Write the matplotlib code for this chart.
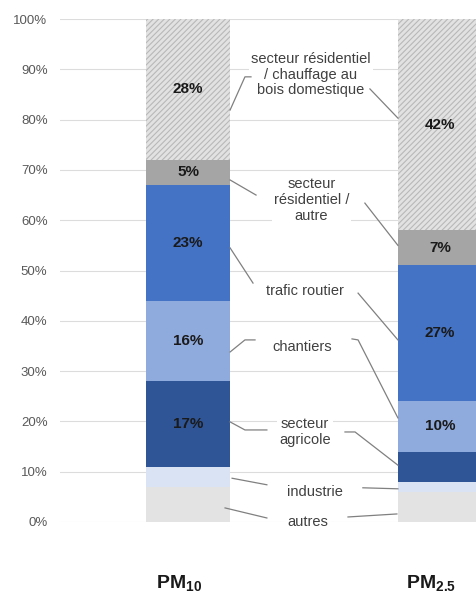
import matplotlib
matplotlib.use("Agg")
import matplotlib.pyplot as plt
import matplotlib.transforms as mtransforms
import numpy as np

# ---- data ----
categories = [r"$\mathbf{PM_{10}}$", r"$\mathbf{PM_{2.5}}$"]
sources = ["autres", "industrie", "secteur\nagricole", "chantiers", "trafic routier",
           "secteur\nrésidentiel /\nautre",
           "secteur résidentiel\n/ chauffage au\nbois domestique"]
pm10 = [7, 4, 17, 16, 23, 5, 28]
pm25 = [6, 2, 6, 10, 27, 7, 42]
show_pm10 = [False, False, True, True, True, True, True]
show_pm25 = [False, False, False, True, True, True, True]
yticks = [0, 10, 20, 30, 40, 50, 60, 70, 80, 90, 100]

# ---- style ----
colors = ["#e3e3e3", "#dae3f3", "#2f5597", "#8faadc", "#4472c4", "#a5a5a5", "#e2e2e2"]
hatches = [None, None, None, None, None, None, "//////"]

plt.rcParams["font.family"] = ["Liberation Sans", "DejaVu Sans"]
plt.rcParams["mathtext.fontset"] = "custom"
plt.rcParams["mathtext.rm"] = "Liberation Sans"
plt.rcParams["mathtext.bf"] = "Liberation Sans:bold"
plt.rcParams["hatch.linewidth"] = 0.8

fig = plt.figure(figsize=(4.76, 5.94), dpi=100)
ax = fig.add_axes([60 / 476, 72 / 594, 416 / 476, 503 / 594])

w = 1 / 3
x = np.arange(len(categories))
series = [pm10, pm25]
shows = [show_pm10, show_pm25]

for i, (vals, show) in enumerate(zip(series, shows)):
    bottom = 0
    for j, v in enumerate(vals):
        ax.bar(x[i], v, width=w, bottom=bottom, color=colors[j],
               hatch=hatches[j], edgecolor="#b8b8b8" if hatches[j] else colors[j],
               linewidth=0, zorder=2)
        if show[j]:
            ax.text(x[i], bottom + v / 2, f"{v}%", ha="center", va="center",
                    fontsize=11, fontweight="bold", color="#1a1a1a", zorder=4)
        bottom += v

ax.set_ylim(0, 100)
ax.set_xlim(-0.508, 1.143)
ax.set_yticks(yticks)
ax.set_yticklabels([f"{t}%" for t in yticks], fontsize=9.5, color="#595959")
ax.set_xticks(x)
ax.set_xticklabels(categories, fontsize=14, color="#1a1a1a")
ax.tick_params(axis="y", length=0, pad=9)
ax.tick_params(axis="x", length=0, pad=37)
shift = mtransforms.ScaledTranslation(-9 / 100, 0, fig.dpi_scale_trans)
for lab in ax.get_xticklabels():
    lab.set_transform(lab.get_transform() + shift)
ax.grid(axis="y", color="#dcdcdc", linewidth=0.8, zorder=0)
ax.set_axisbelow(True)
for s in ax.spines.values():
    s.set_visible(False)

# ---- annotation labels (layout) ----
label_pos = [(0.476, 0.0), (0.504, 6.0), (0.464, 17.9), (0.452, 34.8),
             (0.464, 45.9), (0.49, 64.0), (0.488, 88.9)]
leaders = [
    ([(0.147, 2.8), (0.313, 0.8)], [(0.635, 1.0), (0.829, 1.6)]),
    ([(0.175, 8.7), (0.313, 7.4)], [(0.694, 6.8), (0.833, 6.6)]),
    ([(0.167, 19.9), (0.226, 18.3), (0.313, 18.3)], [(0.623, 17.9), (0.663, 17.9), (0.833, 11.3)]),
    ([(0.167, 33.8), (0.226, 36.2), (0.266, 36.2)], [(0.651, 36.4), (0.675, 36.2), (0.833, 20.7)]),
    ([(0.167, 54.5), (0.258, 47.5)], [(0.675, 45.5), (0.833, 36.2)]),
    ([(0.167, 68.0), (0.27, 65.0)], [(0.702, 63.4), (0.833, 55.0)]),
    ([(0.167, 81.9), (0.226, 88.5), (0.25, 88.5)], [(0.722, 86.1), (0.833, 80.3)]),
]

for name, (tx, ty), (lp, rp) in zip(sources, label_pos, leaders):
    ax.text(tx, ty, name, ha="center", va="center", fontsize=10.5, color="#404040",
            linespacing=1.15, zorder=3,
            bbox=dict(facecolor="white", edgecolor="none", pad=1.5))
    for path in (lp, rp):
        xs, ys = zip(*path)
        ax.plot(xs, ys, color="#808080", linewidth=0.9, zorder=3, clip_on=False)

fig.savefig("out.png", dpi=100)
